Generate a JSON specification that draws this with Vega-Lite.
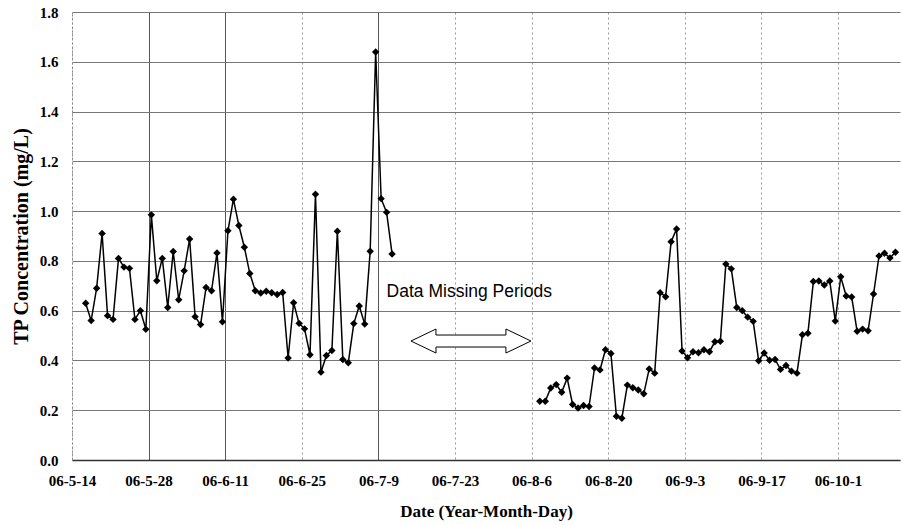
{
  "$schema": "https://vega.github.io/schema/vega-lite/v6.json",
  "autosize": "none",
  "width": 828,
  "height": 448,
  "padding": {"left": 72, "top": 12, "right": 3, "bottom": 65},
  "background": "white",
  "config": {"view": {"stroke": null}},
  "datasets": {
    "tp": [
      {"date": "2006-05-16T12:00:00", "tp": 0.63, "period": "before"},
      {"date": "2006-05-17T12:00:00", "tp": 0.56, "period": "before"},
      {"date": "2006-05-18T12:00:00", "tp": 0.69, "period": "before"},
      {"date": "2006-05-19T12:00:00", "tp": 0.91, "period": "before"},
      {"date": "2006-05-20T12:00:00", "tp": 0.58, "period": "before"},
      {"date": "2006-05-21T12:00:00", "tp": 0.565, "period": "before"},
      {"date": "2006-05-22T12:00:00", "tp": 0.81, "period": "before"},
      {"date": "2006-05-23T12:00:00", "tp": 0.775, "period": "before"},
      {"date": "2006-05-24T12:00:00", "tp": 0.77, "period": "before"},
      {"date": "2006-05-25T12:00:00", "tp": 0.565, "period": "before"},
      {"date": "2006-05-26T12:00:00", "tp": 0.6, "period": "before"},
      {"date": "2006-05-27T12:00:00", "tp": 0.525, "period": "before"},
      {"date": "2006-05-28T12:00:00", "tp": 0.985, "period": "before"},
      {"date": "2006-05-29T12:00:00", "tp": 0.72, "period": "before"},
      {"date": "2006-05-30T12:00:00", "tp": 0.81, "period": "before"},
      {"date": "2006-05-31T12:00:00", "tp": 0.613, "period": "before"},
      {"date": "2006-06-01T12:00:00", "tp": 0.838, "period": "before"},
      {"date": "2006-06-02T12:00:00", "tp": 0.644, "period": "before"},
      {"date": "2006-06-03T12:00:00", "tp": 0.76, "period": "before"},
      {"date": "2006-06-04T12:00:00", "tp": 0.888, "period": "before"},
      {"date": "2006-06-05T12:00:00", "tp": 0.576, "period": "before"},
      {"date": "2006-06-06T12:00:00", "tp": 0.544, "period": "before"},
      {"date": "2006-06-07T12:00:00", "tp": 0.693, "period": "before"},
      {"date": "2006-06-08T12:00:00", "tp": 0.68, "period": "before"},
      {"date": "2006-06-09T12:00:00", "tp": 0.832, "period": "before"},
      {"date": "2006-06-10T12:00:00", "tp": 0.555, "period": "before"},
      {"date": "2006-06-11T12:00:00", "tp": 0.921, "period": "before"},
      {"date": "2006-06-12T12:00:00", "tp": 1.048, "period": "before"},
      {"date": "2006-06-13T12:00:00", "tp": 0.942, "period": "before"},
      {"date": "2006-06-14T12:00:00", "tp": 0.855, "period": "before"},
      {"date": "2006-06-15T12:00:00", "tp": 0.749, "period": "before"},
      {"date": "2006-06-16T12:00:00", "tp": 0.68, "period": "before"},
      {"date": "2006-06-17T12:00:00", "tp": 0.671, "period": "before"},
      {"date": "2006-06-18T12:00:00", "tp": 0.678, "period": "before"},
      {"date": "2006-06-19T12:00:00", "tp": 0.672, "period": "before"},
      {"date": "2006-06-20T12:00:00", "tp": 0.665, "period": "before"},
      {"date": "2006-06-21T12:00:00", "tp": 0.673, "period": "before"},
      {"date": "2006-06-22T12:00:00", "tp": 0.41, "period": "before"},
      {"date": "2006-06-23T12:00:00", "tp": 0.632, "period": "before"},
      {"date": "2006-06-24T12:00:00", "tp": 0.549, "period": "before"},
      {"date": "2006-06-25T12:00:00", "tp": 0.527, "period": "before"},
      {"date": "2006-06-26T12:00:00", "tp": 0.423, "period": "before"},
      {"date": "2006-06-27T12:00:00", "tp": 1.068, "period": "before"},
      {"date": "2006-06-28T12:00:00", "tp": 0.353, "period": "before"},
      {"date": "2006-06-29T12:00:00", "tp": 0.42, "period": "before"},
      {"date": "2006-06-30T12:00:00", "tp": 0.44, "period": "before"},
      {"date": "2006-07-01T12:00:00", "tp": 0.919, "period": "before"},
      {"date": "2006-07-02T12:00:00", "tp": 0.404, "period": "before"},
      {"date": "2006-07-03T12:00:00", "tp": 0.391, "period": "before"},
      {"date": "2006-07-04T12:00:00", "tp": 0.548, "period": "before"},
      {"date": "2006-07-05T12:00:00", "tp": 0.619, "period": "before"},
      {"date": "2006-07-06T12:00:00", "tp": 0.546, "period": "before"},
      {"date": "2006-07-07T12:00:00", "tp": 0.839, "period": "before"},
      {"date": "2006-07-08T12:00:00", "tp": 1.639, "period": "before"},
      {"date": "2006-07-09T12:00:00", "tp": 1.05, "period": "before"},
      {"date": "2006-07-10T12:00:00", "tp": 0.995, "period": "before"},
      {"date": "2006-07-11T12:00:00", "tp": 0.828, "period": "before"},
      {"date": "2006-08-07T12:00:00", "tp": 0.236, "period": "after"},
      {"date": "2006-08-08T12:00:00", "tp": 0.236, "period": "after"},
      {"date": "2006-08-09T12:00:00", "tp": 0.289, "period": "after"},
      {"date": "2006-08-10T12:00:00", "tp": 0.303, "period": "after"},
      {"date": "2006-08-11T12:00:00", "tp": 0.272, "period": "after"},
      {"date": "2006-08-12T12:00:00", "tp": 0.329, "period": "after"},
      {"date": "2006-08-13T12:00:00", "tp": 0.223, "period": "after"},
      {"date": "2006-08-14T12:00:00", "tp": 0.209, "period": "after"},
      {"date": "2006-08-15T12:00:00", "tp": 0.219, "period": "after"},
      {"date": "2006-08-16T12:00:00", "tp": 0.215, "period": "after"},
      {"date": "2006-08-17T12:00:00", "tp": 0.37, "period": "after"},
      {"date": "2006-08-18T12:00:00", "tp": 0.362, "period": "after"},
      {"date": "2006-08-19T12:00:00", "tp": 0.443, "period": "after"},
      {"date": "2006-08-20T12:00:00", "tp": 0.428, "period": "after"},
      {"date": "2006-08-21T12:00:00", "tp": 0.176, "period": "after"},
      {"date": "2006-08-22T12:00:00", "tp": 0.168, "period": "after"},
      {"date": "2006-08-23T12:00:00", "tp": 0.301, "period": "after"},
      {"date": "2006-08-24T12:00:00", "tp": 0.29, "period": "after"},
      {"date": "2006-08-25T12:00:00", "tp": 0.281, "period": "after"},
      {"date": "2006-08-26T12:00:00", "tp": 0.266, "period": "after"},
      {"date": "2006-08-27T12:00:00", "tp": 0.366, "period": "after"},
      {"date": "2006-08-28T12:00:00", "tp": 0.349, "period": "after"},
      {"date": "2006-08-29T12:00:00", "tp": 0.672, "period": "after"},
      {"date": "2006-08-30T12:00:00", "tp": 0.656, "period": "after"},
      {"date": "2006-08-31T12:00:00", "tp": 0.877, "period": "after"},
      {"date": "2006-09-01T12:00:00", "tp": 0.928, "period": "after"},
      {"date": "2006-09-02T12:00:00", "tp": 0.438, "period": "after"},
      {"date": "2006-09-03T12:00:00", "tp": 0.411, "period": "after"},
      {"date": "2006-09-04T12:00:00", "tp": 0.435, "period": "after"},
      {"date": "2006-09-05T12:00:00", "tp": 0.431, "period": "after"},
      {"date": "2006-09-06T12:00:00", "tp": 0.443, "period": "after"},
      {"date": "2006-09-07T12:00:00", "tp": 0.435, "period": "after"},
      {"date": "2006-09-08T12:00:00", "tp": 0.475, "period": "after"},
      {"date": "2006-09-09T12:00:00", "tp": 0.477, "period": "after"},
      {"date": "2006-09-10T12:00:00", "tp": 0.787, "period": "after"},
      {"date": "2006-09-11T12:00:00", "tp": 0.768, "period": "after"},
      {"date": "2006-09-12T12:00:00", "tp": 0.613, "period": "after"},
      {"date": "2006-09-13T12:00:00", "tp": 0.6, "period": "after"},
      {"date": "2006-09-14T12:00:00", "tp": 0.574, "period": "after"},
      {"date": "2006-09-15T12:00:00", "tp": 0.557, "period": "after"},
      {"date": "2006-09-16T12:00:00", "tp": 0.399, "period": "after"},
      {"date": "2006-09-17T12:00:00", "tp": 0.43, "period": "after"},
      {"date": "2006-09-18T12:00:00", "tp": 0.401, "period": "after"},
      {"date": "2006-09-19T12:00:00", "tp": 0.404, "period": "after"},
      {"date": "2006-09-20T12:00:00", "tp": 0.364, "period": "after"},
      {"date": "2006-09-21T12:00:00", "tp": 0.38, "period": "after"},
      {"date": "2006-09-22T12:00:00", "tp": 0.357, "period": "after"},
      {"date": "2006-09-23T12:00:00", "tp": 0.349, "period": "after"},
      {"date": "2006-09-24T12:00:00", "tp": 0.503, "period": "after"},
      {"date": "2006-09-25T12:00:00", "tp": 0.509, "period": "after"},
      {"date": "2006-09-26T12:00:00", "tp": 0.717, "period": "after"},
      {"date": "2006-09-27T12:00:00", "tp": 0.719, "period": "after"},
      {"date": "2006-09-28T12:00:00", "tp": 0.703, "period": "after"},
      {"date": "2006-09-29T12:00:00", "tp": 0.719, "period": "after"},
      {"date": "2006-09-30T12:00:00", "tp": 0.558, "period": "after"},
      {"date": "2006-10-01T12:00:00", "tp": 0.736, "period": "after"},
      {"date": "2006-10-02T12:00:00", "tp": 0.659, "period": "after"},
      {"date": "2006-10-03T12:00:00", "tp": 0.655, "period": "after"},
      {"date": "2006-10-04T12:00:00", "tp": 0.517, "period": "after"},
      {"date": "2006-10-05T12:00:00", "tp": 0.526, "period": "after"},
      {"date": "2006-10-06T12:00:00", "tp": 0.519, "period": "after"},
      {"date": "2006-10-07T12:00:00", "tp": 0.667, "period": "after"},
      {"date": "2006-10-08T12:00:00", "tp": 0.82, "period": "after"},
      {"date": "2006-10-09T12:00:00", "tp": 0.831, "period": "after"},
      {"date": "2006-10-10T12:00:00", "tp": 0.812, "period": "after"},
      {"date": "2006-10-11T12:00:00", "tp": 0.835, "period": "after"}
    ],
    "note": [
      {"date": "2006-07-10T12:00:00", "tp": 0.676, "label": "Data Missing Periods"}
    ],
    "arrow": [
      {"date": "2006-07-25T22:00:00", "tp": 0.478}
    ]
  },
  "encoding": {
    "x": {
      "field": "date",
      "type": "temporal",
      "scale": {"domain": ["2006-05-14T00:00:00", "2006-10-12T08:00:00"], "nice": false},
      "axis": {
        "title": "Date (Year-Month-Day)",
        "values": [
          {"year": 2006, "month": 5, "date": 14},
          {"year": 2006, "month": 5, "date": 28},
          {"year": 2006, "month": 6, "date": 11},
          {"year": 2006, "month": 6, "date": 25},
          {"year": 2006, "month": 7, "date": 9},
          {"year": 2006, "month": 7, "date": 23},
          {"year": 2006, "month": 8, "date": 6},
          {"year": 2006, "month": 8, "date": 20},
          {"year": 2006, "month": 9, "date": 3},
          {"year": 2006, "month": 9, "date": 17},
          {"year": 2006, "month": 10, "date": 1}
        ],
        "format": "%y-%-m-%-d",
        "labelFont": "Liberation Serif",
        "labelFontWeight": "bold",
        "labelFontSize": 15,
        "labelColor": "black",
        "labelPadding": 13,
        "labelAngle": 0,
        "labelFlush": false,
        "labelOverlap": false,
        "ticks": false,
        "domainColor": "#333",
        "domainWidth": 1.5,
        "grid": true,
        "gridColor": {
          "condition": {
            "test": "(month(datum.value)==4 && date(datum.value)==28) || (month(datum.value)==5 && date(datum.value)==11) || (month(datum.value)==6 && date(datum.value)==9)",
            "value": "#555"
          },
          "value": "#999"
        },
        "gridDash": {
          "condition": {
            "test": "(month(datum.value)==4 && date(datum.value)==28) || (month(datum.value)==5 && date(datum.value)==11) || (month(datum.value)==6 && date(datum.value)==9)",
            "value": []
          },
          "value": [2, 3]
        },
        "titleFont": "Liberation Serif",
        "titleFontWeight": "bold",
        "titleFontSize": 17,
        "titleColor": "black",
        "titlePadding": 15
      }
    },
    "y": {
      "field": "tp",
      "type": "quantitative",
      "scale": {"domain": [0, 1.8], "nice": false, "zero": true},
      "axis": {
        "title": "TP Concentration (mg/L)",
        "values": [0, 0.2, 0.4, 0.6, 0.8, 1.0, 1.2, 1.4, 1.6, 1.8],
        "format": ".1f",
        "labelFont": "Liberation Serif",
        "labelFontWeight": "bold",
        "labelFontSize": 15,
        "labelColor": "black",
        "labelPadding": 14,
        "ticks": false,
        "domainColor": "#888",
        "domainDash": [2, 2],
        "grid": true,
        "gridColor": "#777",
        "gridWidth": 1,
        "titleFont": "Liberation Serif",
        "titleFontWeight": "bold",
        "titleFontSize": 20,
        "titleColor": "black",
        "titlePadding": 8
      }
    }
  },
  "layer": [
    {
      "data": {"name": "tp"},
      "mark": {"type": "line", "color": "black", "strokeWidth": 1.5},
      "encoding": {"detail": {"field": "period", "type": "nominal"}}
    },
    {
      "data": {"name": "tp"},
      "mark": {"type": "point", "shape": "diamond", "filled": true, "color": "black", "size": 55, "opacity": 1}
    },
    {
      "data": {"name": "note"},
      "mark": {"type": "text", "align": "left", "baseline": "middle", "font": "Liberation Sans", "fontSize": 17.5, "color": "black"},
      "encoding": {"text": {"field": "label"}}
    },
    {
      "data": {"name": "arrow"},
      "mark": {
        "type": "point",
        "shape": "M -1 0 L -0.583 -0.2 L -0.583 -0.1 L 0.583 -0.1 L 0.583 -0.2 L 1 0 L 0.583 0.2 L 0.583 0.1 L -0.583 0.1 L -0.583 0.2 Z",
        "size": 14400,
        "filled": true,
        "fill": "white",
        "stroke": "black",
        "strokeWidth": 1,
        "opacity": 1
      }
    }
  ]
}
